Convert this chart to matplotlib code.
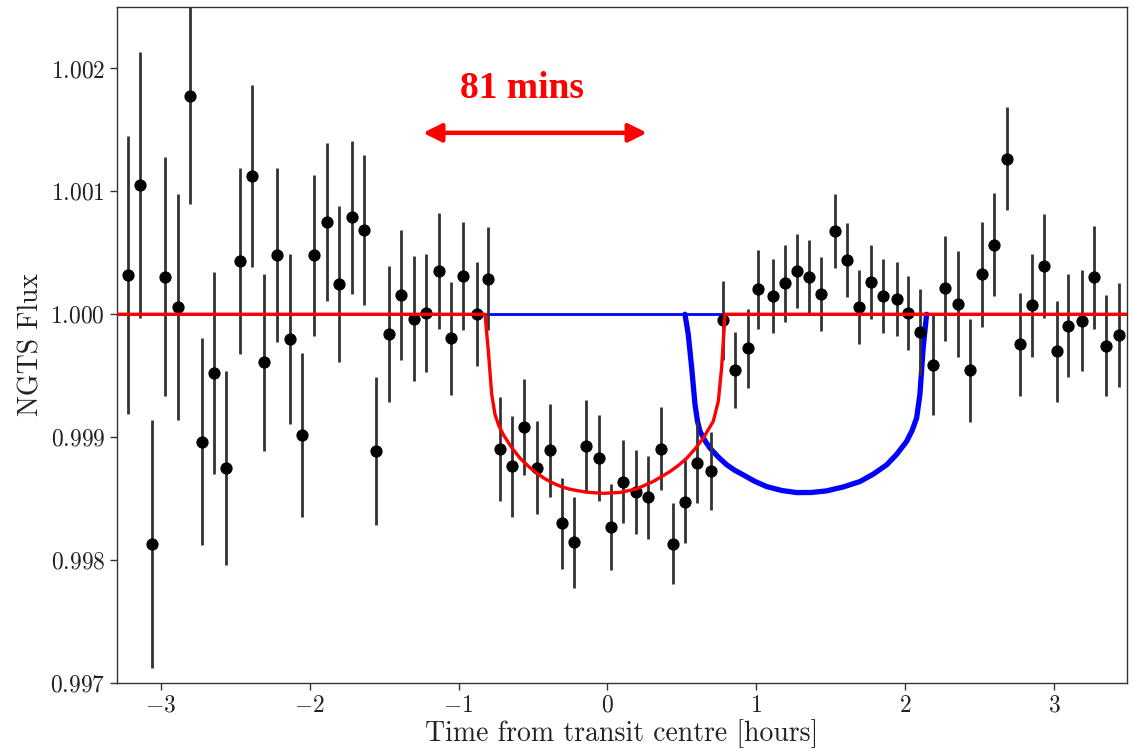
import matplotlib
matplotlib.use('Agg')
import matplotlib.pyplot as plt
import numpy as np

plt.rcParams.update({
    'font.family': ['cmr10', 'DejaVu Serif'],
    'mathtext.fontset': 'cm',
    'axes.formatter.use_mathtext': True,
    'axes.unicode_minus': True,
})

# binned NGTS photometry (hours from transit centre, flux, 1-sigma)
time = [-3.218, -3.135, -3.056, -2.971, -2.881, -2.802, -2.719, -2.639, -2.560, -2.466,
        -2.383, -2.304, -2.219, -2.129, -2.048, -1.967, -1.884, -1.804, -1.712, -1.631,
        -1.552, -1.469, -1.388, -1.299, -1.215, -1.132, -1.052, -0.969, -0.879, -0.805,
        -0.722, -0.641, -0.560, -0.473, -0.388, -0.307, -0.227, -0.144, -0.055, 0.024,
        0.106, 0.189, 0.270, 0.359, 0.442, 0.522, 0.603, 0.695, 0.775, 0.858,
        0.941, 1.010, 1.109, 1.191, 1.272, 1.352, 1.433, 1.525, 1.605, 1.686,
        1.768, 1.849, 1.941, 2.019, 2.099, 2.182, 2.263, 2.354, 2.435, 2.515,
        2.596, 2.679, 2.768, 2.851, 2.932, 3.015, 3.093, 3.185, 3.267, 3.348, 3.431]
flux = [1.000318, 1.001050, 0.998131, 1.000307, 1.000062, 1.001774, 0.998964, 0.999522, 0.998748, 1.000434,
        1.001128, 0.999610, 1.000482, 0.999800, 0.999018, 1.000482, 1.000752, 1.000245, 1.000788, 1.000686,
        0.998887, 0.999840, 1.000157, 0.999964, 1.000010, 1.000350, 0.999805, 1.000312, 1.000000, 1.000290,
        0.998903, 0.998764, 0.999083, 0.998753, 0.998892, 0.998298, 0.998143, 0.998930, 0.998827, 0.998271,
        0.998639, 0.998555, 0.998510, 0.998906, 0.998132, 0.998475, 0.998792, 0.998726, 0.999950, 0.999547,
        0.999723, 1.000203, 1.000150, 1.000251, 1.000352, 1.000305, 1.000164, 1.000679, 1.000439, 1.000057,
        1.000264, 1.000150, 1.000123, 1.000008, 0.999858, 0.999591, 1.000210, 1.000084, 0.999545, 1.000324,
        1.000567, 1.001265, 0.999755, 1.000074, 1.000392, 0.999697, 0.999907, 0.999948, 1.000302, 0.999744, 0.999831]
flux_err = [1.13, 1.08, 1.01, 0.97, 0.92, 0.88, 0.84, 0.82, 0.79, 0.76,
            0.74, 0.72, 0.71, 0.69, 0.67, 0.655, 0.645, 0.635, 0.62, 0.61,
            0.60, 0.55, 0.53, 0.51, 0.48, 0.47, 0.46, 0.44, 0.425, 0.42,
            0.42, 0.41, 0.39, 0.38, 0.38, 0.37, 0.37, 0.37, 0.35, 0.35,
            0.34, 0.34, 0.34, 0.34, 0.33, 0.34, 0.33, 0.32, 0.32, 0.31,
            0.32, 0.32, 0.30, 0.31, 0.30, 0.30, 0.30, 0.30, 0.30, 0.30,
            0.30, 0.30, 0.30, 0.30, 0.35, 0.41, 0.43, 0.43, 0.42, 0.43,
            0.42, 0.42, 0.42, 0.42, 0.42, 0.41, 0.42, 0.41, 0.42, 0.41, 0.42]
flux_err = [e * 1e-3 for e in flux_err]

# models
red_time = [-3.40, -0.822, -0.800, -0.777, -0.755, -0.730, -0.699, -0.643, -0.587, -0.530, -0.475,
            -0.420, -0.364, -0.308, -0.252, -0.140, -0.028, 0.084, 0.196, 0.308, 0.419,
            0.476, 0.532, 0.588, 0.643, 0.710, 0.744, 0.766, 0.789, 3.60]
red_flux = [1.0, 1.0, 0.999702, 0.999347, 0.999184, 0.999095, 0.999020, 0.998915, 0.998829, 0.998762, 0.998706,
            0.998662, 0.998625, 0.998597, 0.998576, 0.998552, 0.998543, 0.998550, 0.998579, 0.998640, 0.998720,
            0.998770, 0.998829, 0.998905, 0.998993, 0.999129, 0.999293, 0.999565, 1.0, 1.0]

blue_time = [0.520, 0.542, 0.565, 0.587, 0.604, 0.621, 0.655, 0.688, 0.744, 0.800, 0.855, 0.911,
             0.990, 1.068, 1.170, 1.270, 1.370, 1.471, 1.583, 1.695, 1.785, 1.874,
             1.941, 2.008, 2.045, 2.075, 2.097, 2.119, 2.142]
blue_flux = [1.0, 0.999838, 0.999565, 0.999270, 0.999130, 0.999047, 0.998970, 0.998911, 0.998838, 0.998775, 0.998730, 0.998693,
             0.998640, 0.998598, 0.998566, 0.998549, 0.998550, 0.998563, 0.998595, 0.998639, 0.998700, 0.998775,
             0.998860, 0.998966, 0.999055, 0.999156, 0.999347, 0.999728, 1.0]
blue_flat_time = [-3.40, 3.60]
blue_flat_flux = [1.0, 1.0]

fig = plt.figure(figsize=(11.33, 7.52), dpi=100)
ax = fig.add_axes([0.1033, 0.0918, 0.8914, 0.8989])

ax.plot(blue_flat_time, blue_flat_flux, color='#0000ff', lw=2.0, zorder=2)
ax.plot(blue_time, blue_flux, color='#0000ff', lw=3.8, zorder=2,
        solid_joinstyle='round', solid_capstyle='round')
ax.errorbar(time, flux, yerr=flux_err, fmt='o', color='black', ecolor='#333333',
            elinewidth=2.0, markersize=7.8, capsize=0, zorder=3)
ax.plot(red_time, red_flux, color='#ff0000', lw=2.4, zorder=4, solid_joinstyle='round')

# duration annotation
ax.annotate('', xy=(-1.238, 1.001476), xytext=(0.265, 1.001476),
            arrowprops=dict(arrowstyle='<|-|>,head_length=1.1,head_width=0.55',
                            color='#ff0000', lw=3.2, shrinkA=0, shrinkB=0))
ax.text(-0.574, 1.00184, '81 mins', color='#ff0000', fontsize=27, fontweight='bold',
        family='Liberation Serif', ha='center', va='center')

ax.set_xlim(-3.292, 3.487)
ax.set_ylim(0.997, 1.0025)
ax.set_xticks([-3, -2, -1, 0, 1, 2, 3])
ax.set_yticks([0.997, 0.998, 0.999, 1.000, 1.001, 1.002])
ax.ticklabel_format(axis='y', useOffset=False)
ax.yaxis.set_major_formatter(matplotlib.ticker.FuncFormatter(lambda v, p: r'$%.3f$' % v))
ax.tick_params(labelsize=17, length=5, width=1.0, color='#333333', labelcolor='#222222')
for s in ax.spines.values():
    s.set_color('#333333')
    s.set_linewidth(1.0)

ax.set_xlabel('Time from transit centre [hours]', fontsize=20, labelpad=2, color='#222222')
ax.set_ylabel('NGTS Flux', fontsize=20, labelpad=4, color='#222222')

fig.savefig('out.png', dpi=100)
